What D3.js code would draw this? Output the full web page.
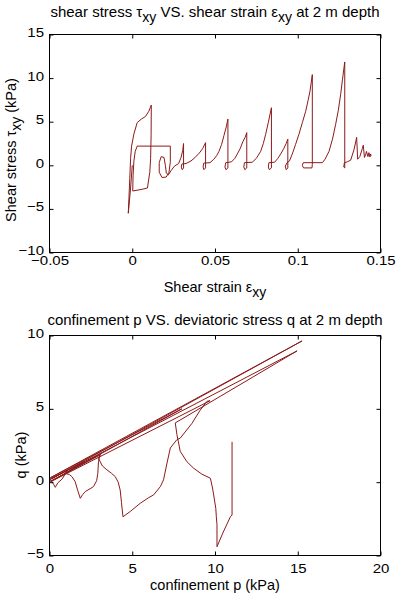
<!DOCTYPE html>
<html>
<head>
<meta charset="utf-8">
<script src="https://cdn.jsdelivr.net/npm/d3@7"></script>
<style>
    body { margin: 0; background: #fff; }
    text { font-family: "Liberation Sans", Arial, sans-serif; fill: #000; }
</style>
</head>
<body>
<div class="chart"></div>
<script>
// top panel: shear strain vs shear stress
var shearStrain = [0.0000, -0.0010, -0.0024, -0.0020, -0.0015, -0.0010, -0.0004, 0.0010, 0.0030, 0.0055, 0.0080, 0.0100, 0.0115,
    0.0114, 0.0111, 0.0106, 0.0098, 0.0092, 0.0060, 0.0003, 0.0005, 0.0010, 0.0018, 0.0030, 0.0230, 0.0230,
    0.0222, 0.0205, 0.0180, 0.0163, 0.0163, 0.0175, 0.0192, 0.0200, 0.0206, 0.0218, 0.0235, 0.0255, 0.0280, 0.0295, 0.0305, 0.0310,
    0.0310, 0.0302, 0.0296, 0.0300, 0.0325, 0.0355, 0.0380, 0.0405, 0.0425, 0.0443,
    0.0443, 0.0433, 0.0428, 0.0432, 0.0470, 0.0493, 0.0510, 0.0524, 0.0540, 0.0554, 0.0568, 0.0578,
    0.0578, 0.0566, 0.0560, 0.0565, 0.0600, 0.0620, 0.0635, 0.0652, 0.0668, 0.0682, 0.0692,
    0.0692, 0.0680, 0.0674, 0.0678, 0.0725, 0.0750, 0.0776, 0.0792, 0.0806, 0.0822, 0.0841,
    0.0841, 0.0828, 0.0822, 0.0826, 0.0860, 0.0880, 0.0897, 0.0915, 0.0930, 0.0940,
    0.0940, 0.0930, 0.0925, 0.0935, 0.0950, 0.0967, 0.0987, 0.1007, 0.1028, 0.1048, 0.1062, 0.1074, 0.1088,
    0.1088, 0.1086, 0.1035, 0.1028, 0.1033, 0.1149, 0.1165, 0.1189, 0.1210, 0.1229, 0.1245, 0.1259, 0.1270, 0.1284,
    0.1284, 0.1278, 0.1282, 0.1300, 0.1320, 0.1340, 0.1356, 0.1362, 0.1375, 0.1390, 0.1396, 0.1403, 0.1410, 0.1415,
    0.1424, 0.1430, 0.1436, 0.1440, 0.1444];
var shearStress = [0.0, -2.6, -5.5, -3.8, -1.5, 0.8, 2.2, 3.6, 4.9, 5.3, 5.6, 6.2, 6.9,
    3.5, 0.8, -0.8, -1.8, -2.6, -2.75, -2.95, -1.2, 0.5, 1.6, 2.2, 2.2, 0.4,
    -0.8, -1.35, -1.4, -0.8, 0.3, 1.0, 0.9, 0.0, -0.9, -1.1, -0.6, -0.1, 0.2, 0.9, 1.7, 2.5,
    -0.3, -0.5, -0.2, 0.15, 0.2, 0.5, 0.9, 1.4, 1.9, 2.6,
    -0.3, -0.5, -0.2, 0.25, 0.3, 0.7, 1.1, 1.6, 2.4, 3.4, 4.4, 5.3,
    -0.3, -0.5, -0.2, 0.3, 0.4, 0.8, 1.3, 1.9, 2.7, 3.2, 3.75,
    -0.3, -0.5, -0.2, 0.3, 0.35, 0.8, 1.6, 2.5, 3.55, 4.9, 6.6,
    -0.3, -0.5, -0.2, 0.3, 0.35, 0.8, 1.3, 1.9, 2.5, 3.0,
    -0.3, -0.5, -0.1, 0.3, 0.5, 1.3, 2.4, 3.55, 4.9, 6.2, 7.4, 8.5, 10.4,
    0.1, -0.3, -0.3, 0.0, 0.3, 0.3, 0.7, 1.6, 3.0, 4.7, 6.3, 8.1, 9.8, 11.85,
    -0.3, -0.2, 0.3, 0.4, 0.6, 1.8, 3.2, 0.7, 1.0, 1.9, 2.3, 0.9, 1.2, 1.6,
    1.0, 1.45, 0.95, 1.3, 1.1];

// bottom panel: confinement p vs deviatoric stress q
var confinementP = [0.00, 1.05, 0.95, 0.75, 0.50, 0.35, 0.25, 0.10, 0.00,
    2.10, 1.30, 0.95, 1.20, 1.35, 1.55, 1.70, 1.86, 2.00, 2.16, 2.45, 2.66, 2.85, 2.92, 2.96, 3.05,
    0.05, 3.10, 2.96, 3.20, 3.47, 3.75, 3.97, 4.15, 4.27, 4.35, 4.44, 4.88, 5.48, 6.00, 6.29, 6.70, 6.89,
    7.10, 7.30, 7.70, 7.90, 8.60, 9.10, 9.52, 9.70,
    0.10, 8.00, 0.05, 15.26, 0.15, 14.96, 7.60, 7.70, 7.90, 8.30, 8.70, 9.20, 9.72, 9.85, 9.92, 10.05, 10.08, 10.12,
    10.12, 10.50, 10.93, 11.03, 11.03];
var deviatoricQ = [0.15, 0.80, 0.55, 0.20, -0.05, -0.35, -0.15, 0.10, 0.20,
    1.40, 0.85, 0.60, 0.52, 0.38, 0.04, -0.55, -1.10, -0.85, -0.64, -0.45, -0.30, 0.10, 0.60, 1.41, 1.85,
    0.05, 1.95, 1.62, 1.10, 0.84, 0.60, 0.38, 0.00, -0.53, -1.40, -2.36, -2.00, -1.44, -1.05, -0.87, -0.30, 0.16,
    1.30, 2.33, 2.90, 3.00, 4.00, 4.90, 5.52, 5.55,
    0.05, 5.00, 0.30, 9.63, 0.25, 8.95, 4.04, 3.24, 2.10, 1.40, 0.96, 0.55, 0.27, -0.40, -0.87, -1.80, -2.36, -2.90,
    -4.40, -3.40, -2.36, -2.24, 2.75];

var strainTicks = [-0.05, 0, 0.05, 0.1, 0.15];
var stressTicks = [-10, -5, 0, 5, 10, 15];
var pTicks = [0, 5, 10, 15, 20];
var qTicks = [-5, 0, 5, 10];

var svgWidth = 397;
var svgHeight = 599;
var lineColor = "#8b1a1a";

var svg = d3.select(".chart")
    .append("svg")
    .attr("width", svgWidth)
    .attr("height", svgHeight);

// writes text, parts flagged 1 are shifted down as subscripts
function richText(sel, parts) {
    var shift = 0;
    parts.forEach(function (p) {
        var want = p[1] ? 5 : 0;
        var t = sel.append("tspan").text(p[0]);
        if (want !== shift) {
            t.attr("dy", want - shift);
            shift = want;
        }
        if (p[1]) t.attr("font-size", 14);
    });
}

function drawPanel(opt) {
    var x = d3.scaleLinear().domain(opt.xDomain).range([49.5, 380.5]);
    var y = d3.scaleLinear().domain(opt.yDomain).range([opt.bottom, opt.top]);
    var g = svg.append("g");

    // curve
    g.append("path")
        .datum(d3.range(opt.xs.length))
        .attr("fill", "none")
        .attr("stroke", lineColor)
        .attr("stroke-width", 1)
        .attr("stroke-linejoin", "round")
        .attr("d", d3.line().x(i => x(opt.xs[i])).y(i => y(opt.ys[i])));

    // box with inward ticks on all four sides
    g.append("g")
        .attr("transform", `translate(0,${opt.bottom})`)
        .call(d3.axisBottom(x).tickValues(opt.xTicks).tickSizeInner(-4).tickSizeOuter(0).tickFormat(d3.format("")))
        .call(a => a.selectAll("text")
            .attr("y", null).attr("dy", null)
            .attr("transform", `translate(0,${opt.xTickY}) scale(1,0.87)`)
            .attr("font-size", 15).attr("font-family", "Liberation Sans, Arial"));
    g.append("g")
        .attr("transform", `translate(0,${opt.top})`)
        .call(d3.axisTop(x).tickValues(opt.xTicks).tickSizeInner(-4).tickSizeOuter(0).tickFormat(""));
    g.append("g")
        .attr("transform", "translate(49.5,0)")
        .call(d3.axisLeft(y).tickValues(opt.yTicks).tickSizeInner(-4).tickSizeOuter(0))
        .call(a => a.selectAll("text")
            .attr("x", null).attr("dy", null)
            .attr("transform", "translate(-5.5,2) scale(1,0.87)")
            .attr("font-size", 15).attr("font-family", "Liberation Sans, Arial"));
    g.append("g")
        .attr("transform", "translate(380.5,0)")
        .call(d3.axisRight(y).tickValues(opt.yTicks).tickSizeInner(-4).tickSizeOuter(0).tickFormat(""));
    g.selectAll(".domain").remove();
    g.append("rect")
        .attr("x", 49.5).attr("y", opt.top)
        .attr("width", 331).attr("height", opt.bottom - opt.top)
        .attr("fill", "none").attr("stroke", "#000");

    var title = g.append("text")
        .attr("x", 215).attr("y", opt.titleY)
        .attr("text-anchor", "middle").attr("font-size", 15);
    richText(title, opt.title);

    var xl = g.append("text")
        .attr("x", 215).attr("y", opt.xLabelY)
        .attr("text-anchor", "middle").attr("font-size", 14.5);
    richText(xl, opt.xLabel);

    var yl = g.append("text")
        .attr("transform", `translate(${opt.yLabelX},${opt.yLabelY}) rotate(-90)`)
        .attr("text-anchor", "middle").attr("font-size", 14.5);
    richText(yl, opt.yLabel);
}

drawPanel({
    xs: shearStrain, ys: shearStress,
    xDomain: [-0.05, 0.15], yDomain: [-10, 15],
    xTicks: strainTicks, yTicks: stressTicks,
    top: 34.5, bottom: 252.5, titleY: 17, xTickY: 12, xLabelY: 292,
    title: [["shear stress \u03c4"], ["xy", 1], [" VS. shear strain \u03b5"], ["xy", 1], [" at 2 m depth"]],
    xLabel: [["Shear strain \u03b5"], ["xy", 1]],
    yLabel: [["Shear stress \u03c4"], ["xy", 1], [" (kPa)"]],
    yLabelX: 16, yLabelY: 150
});

drawPanel({
    xs: confinementP, ys: deviatoricQ,
    xDomain: [0, 20], yDomain: [-5, 10],
    xTicks: pTicks, yTicks: qTicks,
    top: 335.5, bottom: 555.5, titleY: 325, xTickY: 17.5, xLabelY: 590,
    title: [["confinement p VS. deviatoric stress q at 2 m depth"]],
    xLabel: [["confinement p (kPa)"]],
    yLabel: [["q (kPa)"]],
    yLabelX: 26, yLabelY: 455
});
</script>
</body>
</html>
